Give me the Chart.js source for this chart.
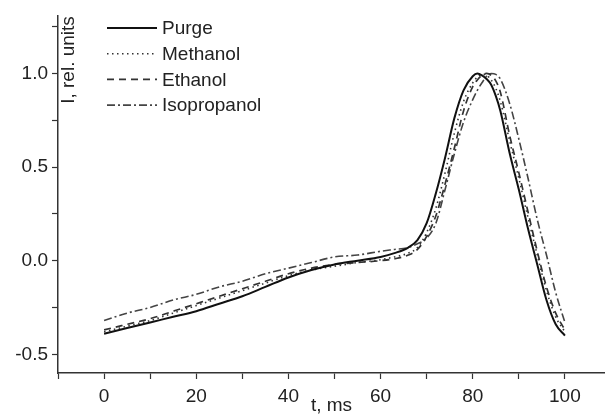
<!DOCTYPE html>
<html>
<head>
<meta charset="utf-8">
<script src="https://cdn.jsdelivr.net/npm/chart.js@4.4.1/dist/chart.umd.min.js"></script>
<style>
  body { margin: 0; background: #fff; }
  #wrap { width: 605px; height: 417px; position: relative; }
</style>
</head>
<body>
<div id="wrap"><canvas id="chart"></canvas></div>
<script>
//! Data

const times = [0, 5, 10, 15, 20, 25, 30, 35, 40, 45, 50, 55, 60, 63, 66, 68, 70, 72, 74, 76, 78, 80, 81, 82, 83, 84, 85, 86, 88, 90, 92, 94, 96, 98, 100];

const purge = [-0.39, -0.36, -0.33, -0.30, -0.27, -0.23, -0.19, -0.14, -0.09, -0.05, -0.02, 0.00, 0.02, 0.04, 0.07, 0.11, 0.20, 0.36, 0.55, 0.76, 0.91, 0.985, 1.0, 0.99, 0.97, 0.94, 0.88, 0.80, 0.575, 0.38, 0.17, -0.02, -0.21, -0.34, -0.40];
const methanol = [-0.38, -0.35, -0.32, -0.28, -0.24, -0.20, -0.16, -0.12, -0.08, -0.05, -0.03, -0.01, 0.005, 0.02, 0.04, 0.07, 0.15, 0.28, 0.47, 0.68, 0.85, 0.95, 0.98, 0.995, 0.99, 0.965, 0.92, 0.85, 0.64, 0.44, 0.23, 0.03, -0.16, -0.30, -0.38];
const ethanol = [-0.37, -0.34, -0.31, -0.27, -0.23, -0.19, -0.15, -0.11, -0.07, -0.04, -0.02, -0.01, 0.00, 0.01, 0.03, 0.06, 0.13, 0.24, 0.41, 0.60, 0.80, 0.93, 0.965, 0.99, 1.0, 0.99, 0.96, 0.90, 0.67, 0.47, 0.26, 0.05, -0.14, -0.28, -0.37];
const isopropanol = [-0.32, -0.28, -0.25, -0.21, -0.18, -0.14, -0.11, -0.07, -0.04, -0.01, 0.02, 0.03, 0.05, 0.06, 0.07, 0.09, 0.12, 0.20, 0.38, 0.57, 0.74, 0.86, 0.91, 0.95, 0.985, 1.0, 0.995, 0.97, 0.84, 0.65, 0.44, 0.22, 0.03, -0.17, -0.33];

const seriesNames = ['Purge', 'Methanol', 'Ethanol', 'Isopropanol'];
const xTicks = [-10, 0, 10, 20, 30, 40, 50, 60, 70, 80, 90, 100];
const yTicks = [-0.5, -0.25, 0, 0.25, 0.5, 0.75, 1.0, 1.25];
const xTitle = 't, ms';
const yTitle = 'I, rel. units';

//! Chart

const FONT = '"Liberation Sans", Arial, sans-serif';
const TEXT = '#222';
const AXIS = '#333';

function toPoints(values) {
    return times.map((t, i) => ({ x: t, y: values[i] }));
}

const styles = [
    { color: '#111', width: 2, dash: [] },
    { color: '#333', width: 1.6, dash: [1.5, 3.5] },
    { color: '#333', width: 1.7, dash: [7, 5] },
    { color: '#444', width: 1.6, dash: [8, 3, 2, 3] },
];

const datasets = [purge, methanol, ethanol, isopropanol].map((values, i) => ({
    label: seriesNames[i],
    data: toPoints(values),
    borderColor: styles[i].color,
    borderWidth: styles[i].width,
    borderDash: styles[i].dash,
    pointRadius: 0,
    fill: false,
    cubicInterpolationMode: 'monotone',
}));

// legend sits inside the plot, top left
const insideLegend = {
    id: 'insideLegend',
    afterDatasetsDraw(chart) {
        const ctx = chart.ctx;
        const left = chart.chartArea.left + 49;
        ctx.save();
        ctx.font = '19px ' + FONT;
        ctx.textBaseline = 'middle';
        chart.data.datasets.forEach((ds, i) => {
            const y = 28 + i * 25.7;
            ctx.beginPath();
            ctx.setLineDash(ds.borderDash);
            ctx.strokeStyle = ds.borderColor;
            ctx.lineWidth = ds.borderWidth;
            ctx.moveTo(left, y);
            ctx.lineTo(left + 50, y);
            ctx.stroke();
            ctx.setLineDash([]);
            ctx.fillStyle = TEXT;
            ctx.fillText(ds.label, left + 55, y + 1);
        });
        ctx.restore();
    }
};

// y title is drawn inside the plot, next to the axis
const innerYTitle = {
    id: 'innerYTitle',
    afterDraw(chart) {
        const ctx = chart.ctx;
        ctx.save();
        ctx.translate(chart.chartArea.left + 11, 60);
        ctx.rotate(-Math.PI / 2);
        ctx.font = '19px ' + FONT;
        ctx.fillStyle = TEXT;
        ctx.textAlign = 'center';
        ctx.textBaseline = 'middle';
        ctx.fillText(yTitle, 0, 0);
        ctx.restore();
    }
};

const ctx = document.getElementById('chart').getContext('2d');

new Chart(ctx, {
    type: 'line',
    data: { datasets },
    plugins: [insideLegend, innerYTitle],
    options: {
        responsive: true,
        maintainAspectRatio: false,
        animation: false,
        layout: { padding: { top: 13, right: 0, left: 0, bottom: 0 } },
        plugins: {
            legend: { display: false },
            tooltip: { enabled: false },
        },
        scales: {
            x: {
                type: 'linear',
                min: -10,
                max: 108.7,
                afterBuildTicks: (scale) => { scale.ticks = xTicks.map(v => ({ value: v })); },
                afterFit: (scale) => { scale.height = 44; },
                ticks: {
                    autoSkip: false,
                    maxRotation: 0,
                    padding: 6,
                    color: TEXT,
                    font: { family: FONT, size: 19 },
                    callback: (v) => (v >= 0 && v % 20 === 0 ? String(v) : ''),
                },
                grid: { drawOnChartArea: false, tickLength: 6, tickColor: AXIS, tickWidth: 1.2 },
                border: { color: AXIS, width: 1.5 },
                title: {
                    display: true,
                    text: xTitle,
                    color: TEXT,
                    font: { family: FONT, size: 19 },
                    padding: { top: 0, bottom: 0 },
                },
            },
            y: {
                min: -0.6,
                max: 1.31,
                afterBuildTicks: (scale) => { scale.ticks = yTicks.map(v => ({ value: v })); },
                afterFit: (scale) => { scale.width = 58; },
                ticks: {
                    padding: 4,
                    color: TEXT,
                    font: { family: FONT, size: 19 },
                    callback: (v) => (Math.abs(v * 2 - Math.round(v * 2)) < 1e-6 ? v.toFixed(1) : ''),
                },
                grid: { drawOnChartArea: false, tickLength: 6, tickColor: AXIS, tickWidth: 1.2 },
                border: { color: AXIS, width: 1.5 },
            },
        },
    },
});
</script>
</body>
</html>
